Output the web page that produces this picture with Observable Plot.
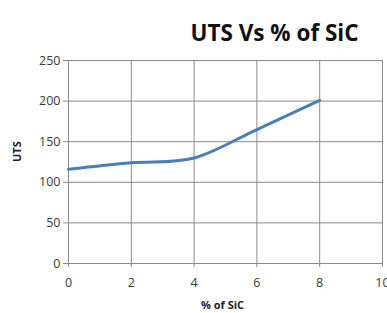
<!DOCTYPE html>
<html><head><meta charset="utf-8">
<script src="https://cdn.jsdelivr.net/npm/d3@7"></script>
<script src="https://cdn.jsdelivr.net/npm/@observablehq/plot@0.6"></script>
<style>body{margin:0;background:#fff;} svg{font-family:"Open Sans",sans-serif;}</style>
</head><body><div id="chart"></div>
<script>
const sic = [0, 2, 4, 6, 8];
const uts = [116, 124, 130, 165, 201];
const xTicks = [0, 2, 4, 6, 8, 10];
const yTicks = [0, 50, 100, 150, 200, 250];
const title = "UTS Vs % of SiC";
const xLabel = "% of SiC";
const yLabel = "UTS";

const data = sic.map((x, i) => ({x, y: uts[i]}));

const chart = Plot.plot({
  width: 387, height: 313,
  marginLeft: 68, marginRight: 5, marginTop: 60, marginBottom: 50,
  style: {fontFamily: "Open Sans, sans-serif", background: "#fff", overflow: "visible"},
  x: {domain: [0, 10]},
  y: {domain: [0, 250]},
  marks: [
    Plot.gridX(xTicks, {stroke: "#8a8a8a", strokeOpacity: 1, strokeWidth: 1}),
    Plot.gridY(yTicks, {stroke: "#8a8a8a", strokeOpacity: 1, strokeWidth: 1}),
    Plot.axisY(yTicks, {tickSize: 5, tickPadding: 3, fontSize: 12.5, fill: "#3a3a3a", stroke: "#8a8a8a", label: null}),
    Plot.axisX(xTicks, {tickSize: 4, tickPadding: 11, fontSize: 12.5, fill: "#3a3a3a", stroke: "#8a8a8a", label: null}),
    Plot.line(data, {x: "x", y: "y", curve: "cardinal", stroke: "#4a7ebb", strokeWidth: 3}),
    Plot.text([title], {frameAnchor: "top", dx: 49, dy: -35, fontSize: 22.5, fontWeight: "bold", fill: "#111"}),
    Plot.text([xLabel], {frameAnchor: "bottom", dx: -3, dy: 45, fontSize: 11, fontWeight: "bold", fill: "#222"}),
    Plot.text([yLabel], {frameAnchor: "left", dx: -51, dy: 0, rotate: -90, fontSize: 11, fontWeight: "bold", fill: "#222"})
  ]
});
document.getElementById("chart").appendChild(chart);
</script></body></html>
